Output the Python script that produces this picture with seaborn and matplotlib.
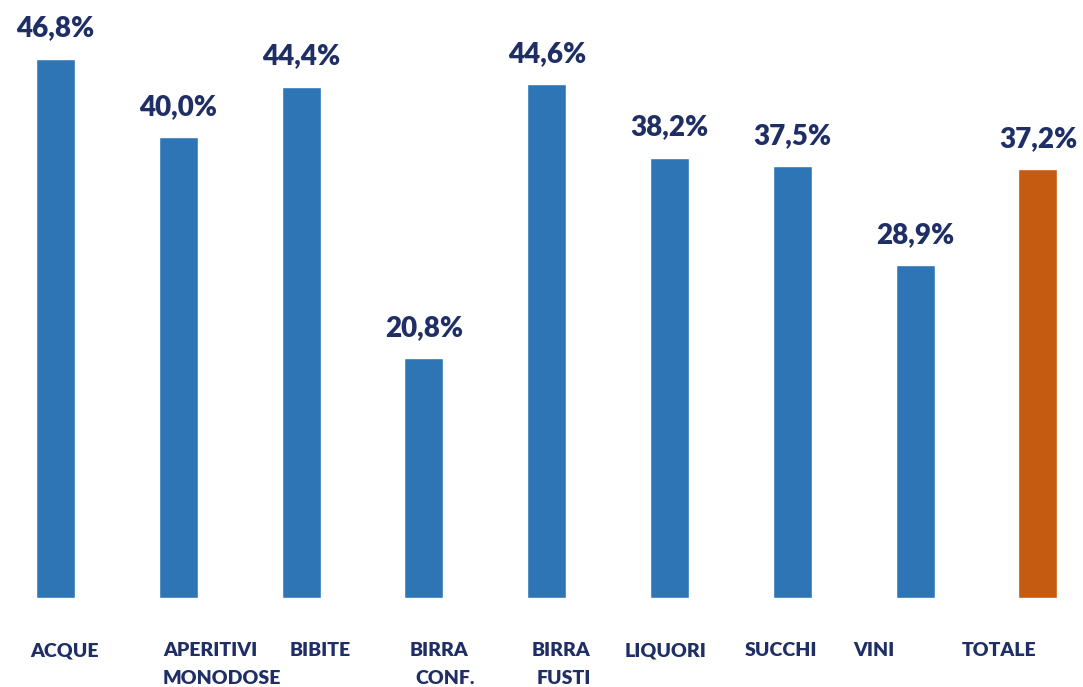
import matplotlib.pyplot as plt
import seaborn as sns
import pandas as pd

# data
categories = ["ACQUE", "APERITIVI\nMONODOSE", "BIBITE", "BIRRA\nCONF.", "BIRRA\nFUSTI",
              "LIQUORI", "SUCCHI", "VINI", "TOTALE"]
values = [46.8, 40.0, 44.4, 20.8, 44.6, 38.2, 37.5, 28.9, 37.2]
value_labels = ["46,8%", "40,0%", "44,4%", "20,8%", "44,6%", "38,2%", "37,5%", "28,9%", "37,2%"]
bar_colors = ["#2E75B6"] * 8 + ["#C55A11"]

text_color = "#1F2F66"

sns.set_style("white")
plt.rcParams['font.family'] = ['Lato', 'DejaVu Sans']

df = pd.DataFrame({"cat": categories, "val": values})

fig = plt.figure(figsize=(10.83, 6.87), dpi=100)
ax = fig.add_axes([0, 89 / 687, 1, 576 / 687])

sns.barplot(data=df, x="cat", y="val", hue="cat", palette=bar_colors,
            width=0.318, legend=False, ax=ax, saturation=1)

ax.set_xlim(-0.452, 8.367)
ax.set_ylim(0, 50)
ax.axis("off")

# value labels above bars
for i, (v, lab) in enumerate(zip(values, value_labels)):
    ax.annotate(lab, xy=(i, v), xytext=(0, 12.5), textcoords="offset points",
                ha="center", va="bottom", fontsize=20, fontweight="heavy",
                color=text_color, clip_on=False)

# category labels below, placed like the original text boxes (pixel x of left edge)
label_left_px = [30, 163, 290, 410, 532, 625, 745, 853, 962]
label_indent = {3: 5, 4: 5}  # second line of BIRRA labels is slightly indented
for i, cat in enumerate(categories):
    lines = cat.split("\n")
    for j, line in enumerate(lines):
        x_px = label_left_px[i] + (label_indent.get(i, 0) if j == 1 else 0)
        y_px = 651 + j * 28
        fig.text(x_px / 1083, 1 - y_px / 687, line, ha="left", va="center",
                 fontsize=14, fontweight="heavy", color=text_color)

fig.savefig("out.png", dpi=100)
